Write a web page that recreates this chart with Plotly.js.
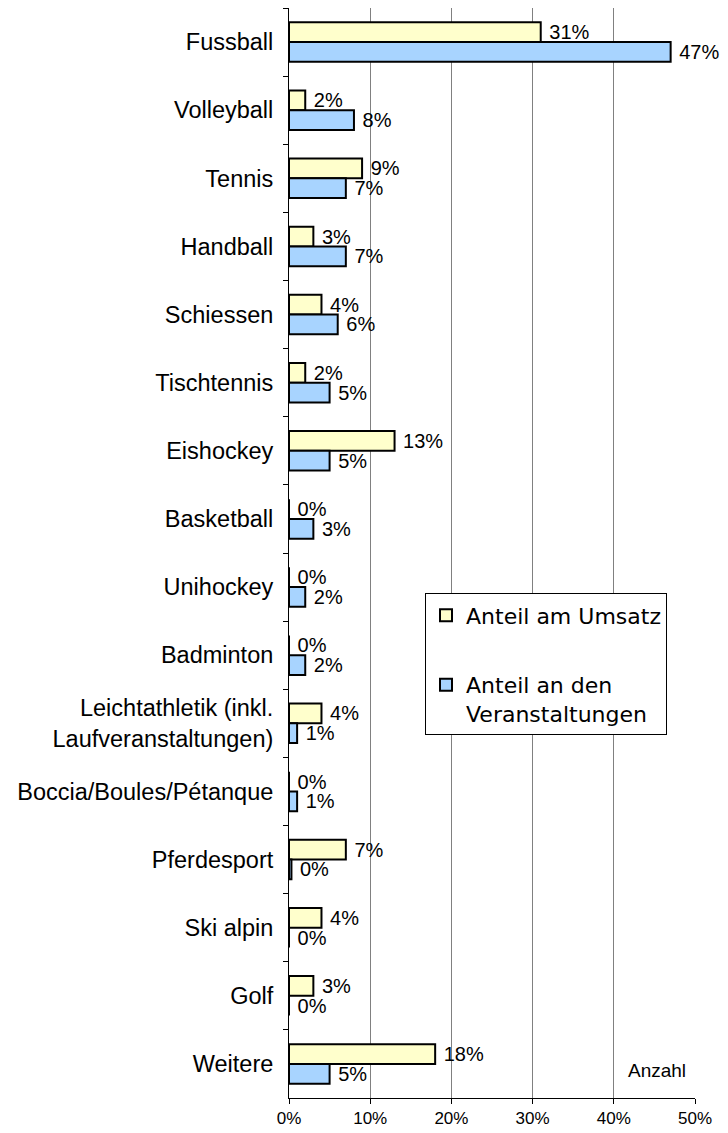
<!DOCTYPE html>
<html>
<head>
<meta charset="utf-8">
<script src="https://cdn.plot.ly/plotly-3.0.1.min.js"></script>
<style>html,body{margin:0;padding:0;background:#fff}#chart{width:728px;height:1133px}</style>
</head>
<body>
<div id="chart"></div>
<script>
const categories = ["Fussball","Volleyball","Tennis","Handball","Schiessen","Tischtennis","Eishockey","Basketball","Unihockey","Badminton","Leichtathletik (inkl.<br>Laufveranstaltungen)","Boccia/Boules/Pétanque","Pferdesport","Ski alpin","Golf","Weitere"];
const umsatz = [31,2,9,3,4,2,13,0,0,0,4,0,7,4,3,18];
const veranstaltungen = [47,8,7,7,6,5,5,3,2,2,1,1,0.3,0,0,5];
const xTicks = [0,10,20,30,40,50];

const pct = v => " " + Math.round(v) + "%";
const common = {
  type: "bar", orientation: "h", y: categories,
  textposition: "outside", cliponaxis: false, constraintext: "none",
  textfont: {family: "Liberation Sans, Arial, sans-serif", size: 20, color: "#000"},
  hoverinfo: "skip"
};
const traces = [
  Object.assign({}, common, {
    name: "Anteil am Umsatz", x: umsatz, text: umsatz.map(pct), legendgroup: "a",
    marker: {color: "#FFFFCC", line: {color: "#000", width: 2}}
  }),
  Object.assign({}, common, {
    name: "Anteil an den<br>Veranstaltungen", x: veranstaltungen, text: veranstaltungen.map(pct), legendgroup: "b",
    marker: {color: "#A8D4FF", line: {color: "#000", width: 2}}
  })
];
const layout = {
  width: 728, height: 1133,
  margin: {l: 289, r: 33, t: 8, b: 35, pad: 0},
  paper_bgcolor: "#fff", plot_bgcolor: "#fff",
  barmode: "group", bargap: 0.42, bargroupgap: 0,
  font: {family: "Liberation Sans, Arial, sans-serif", color: "#000"},
  xaxis: {
    range: [0, 50], tickvals: xTicks, ticktext: xTicks.map(v => v + "%"),
    showgrid: true, gridcolor: "#808080", gridwidth: 1, zeroline: false,
    showline: true, linecolor: "#000", linewidth: 1,
    ticks: "outside", ticklen: 5, tickcolor: "#000",
    tickfont: {size: 17}
  },
  yaxis: {
    type: "category", autorange: "reversed",
    showgrid: false, zeroline: false,
    showline: true, linecolor: "#000", linewidth: 1,
    ticks: "outside", tickson: "boundaries", ticklen: 5, tickcolor: "#000",
    ticklabelstandoff: 10,
    tickfont: {size: 23.5}
  },
  showlegend: true,
  legend: {
    x: 0.335, y: 0.463, xanchor: "left", yanchor: "top",
    bgcolor: "#fff", bordercolor: "#000", borderwidth: 1,
    font: {family: "DejaVu Sans, sans-serif", size: 22},
    traceorder: "grouped", tracegroupgap: 38, valign: "top", itemwidth: 30
  },
  annotations: [{
    text: "Anzahl", xref: "paper", yref: "paper", x: 0.982, y: 0.025,
    xanchor: "right", yanchor: "middle", showarrow: false,
    font: {size: 19}
  }]
};
Plotly.newPlot("chart", traces, layout, {staticPlot: true});
</script>
</body>
</html>
